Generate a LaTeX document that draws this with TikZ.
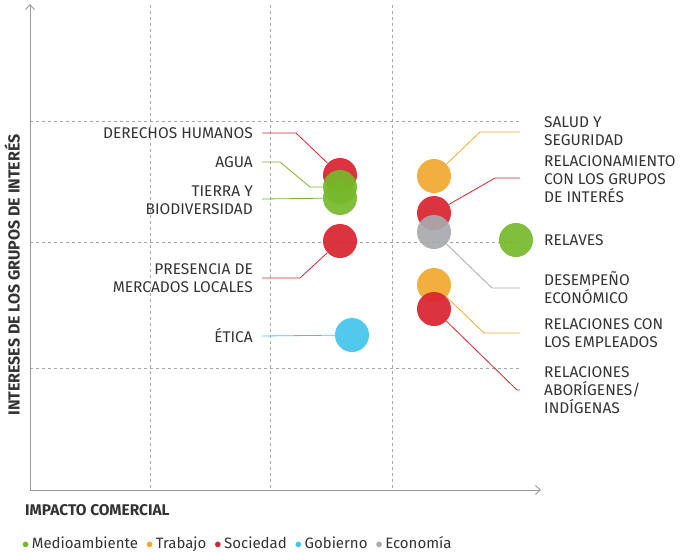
\documentclass[tikz,border=0pt]{standalone}
\usepackage{fontspec}
\setmainfont{Fira Sans}
\usetikzlibrary{arrows.meta}
\definecolor{verde}{HTML}{76B82A}
\definecolor{naranja}{HTML}{F0A830}
\definecolor{rojo}{HTML}{D9232E}
\definecolor{celeste}{HTML}{41C4E8}
\definecolor{gris}{HTML}{A7A9AC}
\definecolor{texto}{HTML}{333333}
\tikzset{
  punto/.style={circle, fill=#1, opacity=0.92, minimum size=34pt, inner sep=0pt},
  etiq/.style={font=\fontsize{15.5}{18}\selectfont, text=texto, align=#1, inner sep=0pt},
  guia/.style={draw=#1, line width=0.8pt},
  rejilla/.style={draw=gray!70, dashed, line width=0.5pt}
}
\begin{document}
\begin{tikzpicture}[x=1pt, y=-1pt]
  \useasboundingbox (0,0) rectangle (691,552);

  % rejilla
  \foreach \gx in {150,270,392} \draw[rejilla] (\gx,5) -- (\gx,490);
  \foreach \gy in {121,242,368} \draw[rejilla] (30,\gy) -- (520,\gy);

  % ejes
  \coordinate (o) at (30,490);
  \coordinate (ytop) at (30,4);
  \coordinate (xend) at (541,490);
  \draw[gray!80, line width=0.9pt, -{Straight Barb[length=5pt,width=9pt]}] (o) -- (ytop);
  \draw[gray!80, line width=0.9pt, -{Straight Barb[length=5pt,width=9pt]}] (o) -- (xend);
  \node[etiq=center, rotate=90, font=\fontsize{16}{18}\bfseries] (ylab) at (12,275) {INTERESES DE LOS GRUPOS DE INTERÉS};
  \node[etiq=left, anchor=west, font=\fontsize{15.5}{18}\bfseries] (xlab) at (25,510) {IMPACTO COMERCIAL};

  % puntos
  \node[punto=rojo] (dh) at (340,175) {};
  \node[punto=verde] (agua) at (340,187) {};
  \node[punto=verde] (tierra) at (340,198) {};
  \node[punto=rojo] (pres) at (340,241) {};
  \node[punto=celeste] (etica) at (352,335) {};
  \node[punto=naranja] (salud) at (434,176) {};
  \node[punto=rojo] (relac) at (434,213) {};
  \node[punto=gris] (desemp) at (434,232) {};
  \node[punto=verde] (relaves) at (516,240) {};
  \node[punto=naranja] (emple) at (434,285) {};
  \node[punto=rojo] (abor) at (434,309) {};

  % etiquetas izquierda
  \node[etiq=right, anchor=east] (tdh) at (253,133) {DERECHOS HUMANOS};
  \node[etiq=right, anchor=east] (tagua) at (253,162) {AGUA};
  \node[etiq=right, anchor=east] (ttierra) at (253,200) {TIERRA Y\\BIODIVERSIDAD};
  \node[etiq=right, anchor=east] (tpres) at (253,278) {PRESENCIA DE\\MERCADOS LOCALES};
  \node[etiq=right, anchor=east] (tetica) at (253,336) {ÉTICA};

  % etiquetas derecha
  \node[etiq=left, anchor=west] (tsalud) at (544,131) {SALUD Y\\SEGURIDAD};
  \node[etiq=left, anchor=west] (trelac) at (544,179) {RELACIONAMIENTO\\CON LOS GRUPOS\\DE INTERÉS};
  \node[etiq=left, anchor=west] (trelaves) at (544,240) {RELAVES};
  \node[etiq=left, anchor=west] (tdesemp) at (544,288) {DESEMPEÑO\\ECONÓMICO};
  \node[etiq=left, anchor=west] (temple) at (544,333) {RELACIONES CON\\LOS EMPLEADOS};
  \node[etiq=left, anchor=west] (tabor) at (544,390) {RELACIONES\\ABORÍGENES/\\INDÍGENAS};

  % guias
  \draw[guia=rojo] (262,133) -- (296,133) -- (dh);
  \draw[guia=verde] (262,162) -- (280,162) -- (310,187) -- (agua);
  \draw[guia=verde] (262,199) -- (tierra);
  \draw[guia=rojo] (262,278) -- (300,278) -- (pres);
  \draw[guia=celeste] (262,336) -- (etica);
  \draw[guia=naranja] (salud) -- (480,132) -- (520,132);
  \draw[guia=rojo] (relac) -- (495,178) -- (520,178);
  \draw[guia=gris] (desemp) -- (492,288) -- (520,288);
  \draw[guia=naranja] (emple) -- (484,333) -- (520,333);
  \draw[guia=rojo] (abor) -- (517,390) -- (520,390);

  % leyenda
  \node[etiq=left, anchor=west, font=\fontsize{15}{17}\selectfont] (leyenda) at (22,544)
    {\textcolor{verde}{\Large$\bullet$}\,Medioambiente\;
     \textcolor{naranja}{\Large$\bullet$}\,Trabajo\;
     \textcolor{rojo}{\Large$\bullet$}\,Sociedad\;
     \textcolor{celeste}{\Large$\bullet$}\,Gobierno\;
     \textcolor{gris}{\Large$\bullet$}\,Economía};
\end{tikzpicture}
\end{document}
